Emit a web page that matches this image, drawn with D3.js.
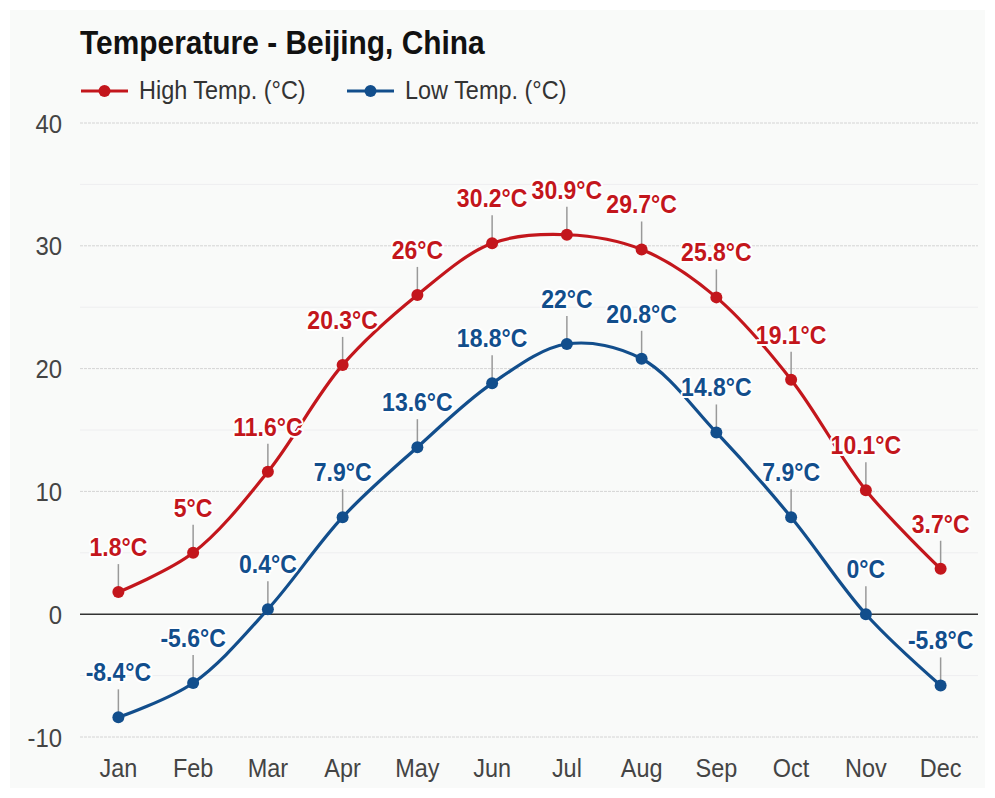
<!DOCTYPE html>
<html>
<head>
<meta charset="utf-8">
<script src="https://cdn.jsdelivr.net/npm/d3@7"></script>
<style>
  html, body { margin: 0; padding: 0; background: #ffffff; }
  svg { display: block; font-family: "Liberation Sans", Arial, sans-serif; }
</style>
</head>
<body>
<svg id="chart" width="995" height="798"></svg>
<script>
// Monthly average temperatures for Beijing
const months = ["Jan", "Feb", "Mar", "Apr", "May", "Jun", "Jul", "Aug", "Sep", "Oct", "Nov", "Dec"];
const highTemps = [1.8, 5, 11.6, 20.3, 26, 30.2, 30.9, 29.7, 25.8, 19.1, 10.1, 3.7];
const lowTemps = [-8.4, -5.6, 0.4, 7.9, 13.6, 18.8, 22, 20.8, 14.8, 7.9, 0, -5.8];
const yTicks = [-10, 0, 10, 20, 30, 40];
const yMinorTicks = [-5, 5, 15, 25, 35];

const series = [
  { name: "High Temp. (°C)", values: highTemps, color: "#c3161c" },
  { name: "Low Temp. (°C)", values: lowTemps, color: "#124e8c" }
];

const svg = d3.select("#chart");
const W = 995, H = 798;
const margin = { left: 81, right: 17, top: 123, bottom: 61 };
const SX = 0.92; // horizontal text compression

// panel background
svg.append("rect").attr("x", 0).attr("y", 0).attr("width", W).attr("height", H).attr("fill", "#ffffff");
svg.append("rect").attr("x", 10).attr("y", 10).attr("width", W - 20).attr("height", H - 20).attr("fill", "#f9faf9");

const x = d3.scaleBand().domain(months).range([margin.left, W - margin.right]).paddingInner(0).paddingOuter(0);
const y = d3.scaleLinear().domain([-10, 40]).range([H - margin.bottom, margin.top]);
const cx = m => x(m) + x.bandwidth() / 2;

const plotLeft = margin.left - 1, plotRight = W - margin.right;

// places a horizontally compressed text at (px, py)
function squeezedText(parent, px, py) {
  return parent.append("g").attr("transform", `translate(${px},${py})`)
    .append("text").attr("transform", `scale(${SX},1)`);
}

// minor grid
svg.append("g").selectAll("line").data(yMinorTicks).join("line")
  .attr("x1", plotLeft).attr("x2", plotRight)
  .attr("y1", d => y(d)).attr("y2", d => y(d))
  .attr("stroke", "#eeeef0").attr("stroke-width", 1);

// major grid
svg.append("g").selectAll("line").data(yTicks.filter(d => d !== 0)).join("line")
  .attr("x1", plotLeft).attr("x2", plotRight)
  .attr("y1", d => y(d)).attr("y2", d => y(d))
  .attr("stroke", "#d4d4d4").attr("stroke-width", 1).attr("stroke-dasharray", "3,1");

// zero baseline
svg.append("line")
  .attr("x1", plotLeft).attr("x2", plotRight)
  .attr("y1", y(0)).attr("y2", y(0))
  .attr("stroke", "#333333").attr("stroke-width", 1.5);

// y axis (plain hyphen for negatives)
const yAxis = d3.axisLeft(y).tickValues(yTicks).tickSize(0).tickPadding(0).tickFormat(d => String(d));
const gy = svg.append("g").attr("transform", `translate(${margin.left - 19},0)`).call(yAxis);
gy.select(".domain").remove();
gy.selectAll("text").attr("font-size", 26).attr("fill", "#444444")
  .attr("font-family", "'Liberation Sans', Arial, sans-serif")
  .attr("x", 0).attr("dy", 0).attr("y", 9).attr("transform", `scale(${SX},1)`);

// x axis
const xAxis = d3.axisBottom(x).tickSize(0).tickPadding(0);
const gx = svg.append("g").attr("transform", `translate(0,${H - margin.bottom})`).call(xAxis);
gx.select(".domain").remove();
gx.selectAll("text").attr("font-size", 25.5).attr("fill", "#444444")
  .attr("font-family", "'Liberation Sans', Arial, sans-serif")
  .attr("dy", 0).attr("y", 40).attr("transform", `scale(${SX},1)`);

// lines
const line = d3.line()
  .x((d, i) => cx(months[i]))
  .y(d => y(d))
  .curve(d3.curveCatmullRom.alpha(0.5));

series.forEach(s => {
  const g = svg.append("g");
  // stems
  g.selectAll("line.stem").data(s.values).join("line").attr("class", "stem")
    .attr("x1", (d, i) => cx(months[i])).attr("x2", (d, i) => cx(months[i]))
    .attr("y1", d => y(d) - 28).attr("y2", d => y(d) - 4)
    .attr("stroke", "#999999").attr("stroke-width", 1.5);
  g.append("path").datum(s.values)
    .attr("d", line).attr("fill", "none")
    .attr("stroke", s.color).attr("stroke-width", 3.2);
  g.selectAll("circle").data(s.values).join("circle")
    .attr("cx", (d, i) => cx(months[i])).attr("cy", d => y(d)).attr("r", 6)
    .attr("fill", s.color);
});

// value labels on top
series.forEach(s => {
  const lg = svg.append("g");
  s.values.forEach((d, i) => {
    squeezedText(lg, cx(months[i]), y(d) - 36)
      .attr("text-anchor", "middle")
      .attr("font-size", 25).attr("font-weight", "bold")
      .attr("fill", s.color)
      .attr("stroke", "#ffffff").attr("stroke-width", 4).attr("stroke-linejoin", "round")
      .attr("paint-order", "stroke")
      .text(`${d}°C`);
  });
});

// title
squeezedText(svg, 80, 54)
  .attr("font-size", 32.5).attr("font-weight", "bold").attr("fill", "#111111")
  .text("Temperature - Beijing, China");

// legend
const legendX = [81, 347];
series.forEach((s, i) => {
  const lg = svg.append("g").attr("transform", `translate(${legendX[i]},91)`);
  lg.append("line").attr("x1", 0).attr("x2", 47).attr("y1", 0).attr("y2", 0)
    .attr("stroke", s.color).attr("stroke-width", 3.2);
  lg.append("circle").attr("cx", 23.5).attr("cy", 0).attr("r", 6).attr("fill", s.color);
  squeezedText(lg, 58, 8)
    .attr("font-size", 25.5).attr("fill", "#333333").text(s.name);
});
</script>
</body>
</html>
